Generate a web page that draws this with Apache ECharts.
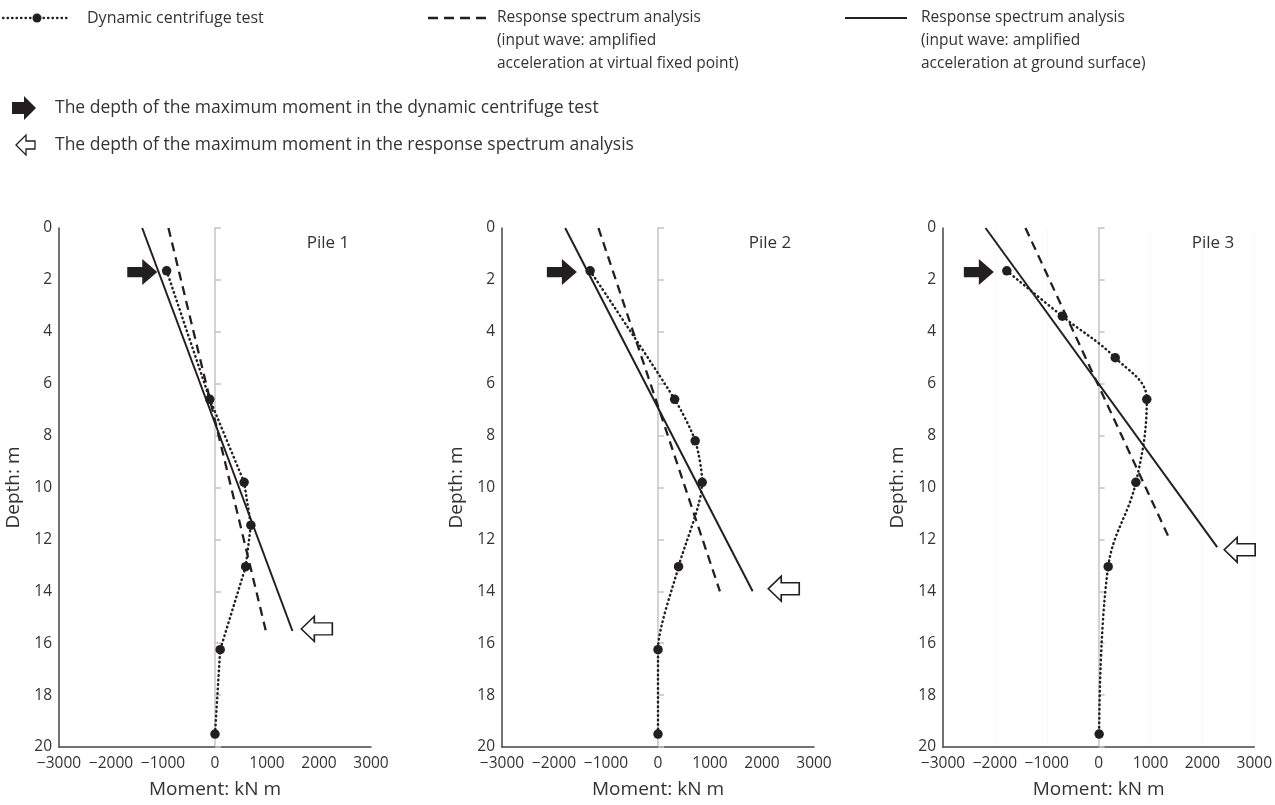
<!DOCTYPE html>
<html><head><meta charset="utf-8">
<script src="https://cdn.jsdelivr.net/npm/echarts@6/dist/echarts.min.js"></script>
<style>html,body{margin:0;padding:0;background:#fff}#c{width:1275px;height:805px}</style>
</head><body><div id="c"></div>
<script>
// ---- data ----
const pileNames = ['Pile 1', 'Pile 2', 'Pile 3'];
const xTickValues = [-3000, -2000, -1000, 0, 1000, 2000, 3000];
const yTickValues = [0, 2, 4, 6, 8, 10, 12, 14, 16, 18, 20];

// Dynamic centrifuge test (moment kN m, depth m)
const pile1TestDepth = [1.65, 6.6, 9.8, 11.45, 13.05, 16.25, 19.5];
const pile1TestMoment = [-930, -100, 560, 690, 590, 100, 0];
const pile2TestDepth = [1.65, 6.6, 8.2, 9.8, 13.05, 16.25, 19.5];
const pile2TestMoment = [-1305, 320, 715, 850, 395, 0, 0];
const pile3TestDepth = [1.65, 3.4, 5.0, 6.6, 9.8, 13.05, 19.5];
const pile3TestMoment = [-1770, -700, 320, 928, 718, 184, 10];

// Response spectrum analysis, virtual fixed point input (dashed): [top, bottom]
const pile1FixedDepth = [0, 15.5];
const pile1FixedMoment = [-895, 975];
const pile2FixedDepth = [0, 14.0];
const pile2FixedMoment = [-1145, 1190];
const pile3FixedDepth = [0, 12.0];
const pile3FixedMoment = [-1410, 1370];

// Response spectrum analysis, ground surface input (solid): [top, bottom]
const pile1GroundDepth = [0, 15.53];
const pile1GroundMoment = [-1400, 1490];
const pile2GroundDepth = [0, 14.0];
const pile2GroundMoment = [-1785, 1820];
const pile3GroundDepth = [0, 12.3];
const pile3GroundMoment = [-2180, 2285];

// Arrows: tip positions [moment, depth]
const testMaxArrowMoment = [-1110, -1560, -2020];
const testMaxArrowDepth = [1.7, 1.7, 1.7];
const spectrumMaxArrowMoment = [1660, 2120, 2420];
const spectrumMaxArrowDepth = [15.45, 13.9, 12.4];

// ---- build ----
const INK = '#231f20';
const TXT = '#333333';
const GRAY = '#c4c4c4';
const FONT = '"Open Sans", "Noto Sans", sans-serif';

const testD = [pile1TestDepth, pile2TestDepth, pile3TestDepth];
const testM = [pile1TestMoment, pile2TestMoment, pile3TestMoment];
const fixD = [pile1FixedDepth, pile2FixedDepth, pile3FixedDepth];
const fixM = [pile1FixedMoment, pile2FixedMoment, pile3FixedMoment];
const grdD = [pile1GroundDepth, pile2GroundDepth, pile3GroundDepth];
const grdM = [pile1GroundMoment, pile2GroundMoment, pile3GroundMoment];
const zip = (m, d) => m.map((v, i) => [v, d[i]]);
const smoothness = [0, 0.25, 0.4];

const FILLED_ARROW = 'path://M0,7.5L15,7.5L15,0L30,12.5L15,25L15,17.5L0,17.5Z';
const OPEN_ARROW = 'path://M0,12.5L13,0L13,6.5L31,6.5L31,18.5L13,18.5L13,25Z';

const gridLefts = [59, 502, 943];
const grids = [], xAxes = [], yAxes = [], series = [];
for (let i = 0; i < 3; i++) {
  grids.push({ left: gridLefts[i], width: 312, top: 228, height: 519 });
  xAxes.push({
    type: 'value', gridIndex: i, min: xTickValues[0], max: xTickValues[xTickValues.length - 1], interval: 1000,
    name: 'Moment: kN m', nameLocation: 'middle', nameGap: 33,
    nameTextStyle: { fontFamily: FONT, fontSize: 19, color: TXT },
    axisLine: { onZero: false, lineStyle: { color: '#444', width: 1.5 } },
    axisTick: { show: false },
    axisLabel: { margin: 9, fontFamily: FONT, fontSize: 15.5, color: TXT,
      formatter: v => (v < 0 ? '\u2212' + Math.abs(v) : String(v)) },
    splitLine: { show: i === 2, lineStyle: { color: '#f4f4f4', type: 'dotted', width: 1 } }
  });
  yAxes.push({
    type: 'value', gridIndex: i, inverse: true, min: yTickValues[0], max: yTickValues[yTickValues.length - 1], interval: 2,
    position: 'left',
    name: 'Depth: m', nameLocation: 'middle', nameGap: 36,
    nameTextStyle: { fontFamily: FONT, fontSize: 19, color: TXT },
    axisLine: { show: true, onZero: false, lineStyle: { color: '#444', width: 1.5 } },
    axisTick: { show: false },
    axisLabel: { margin: 7, fontFamily: FONT, fontSize: 15.5, color: TXT },
    splitLine: { show: false }
  });
  yAxes.push({
    type: 'value', gridIndex: i, inverse: true, min: yTickValues[0], max: yTickValues[yTickValues.length - 1], interval: 2,
    position: 'right',
    axisLine: { show: true, onZero: true, lineStyle: { color: GRAY, width: 1.5 } },
    axisTick: { show: true, length: 6, lineStyle: { color: GRAY, width: 1.5 } },
    axisLabel: { show: false },
    splitLine: { show: false }
  });
  const yi = i * 2;
  series.push({
    name: 'Dynamic centrifuge test', type: 'line', xAxisIndex: i, yAxisIndex: yi,
    data: zip(testM[i], testD[i]), smooth: smoothness[i],
    symbol: 'circle', symbolSize: 9.5, showSymbol: true,
    itemStyle: { color: INK },
    lineStyle: { color: INK, width: 2.5, type: [0.5, 4], cap: 'round' },
    z: 4, silent: true
  });
  series.push({
    name: 'Response spectrum analysis (virtual fixed point)', type: 'line', xAxisIndex: i, yAxisIndex: yi,
    data: zip(fixM[i], fixD[i]), symbol: 'none',
    lineStyle: { color: INK, width: 2.3, type: [9, 6] }, z: 3, silent: true
  });
  series.push({
    name: 'Response spectrum analysis (ground surface)', type: 'line', xAxisIndex: i, yAxisIndex: yi,
    data: zip(grdM[i], grdD[i]), symbol: 'none',
    lineStyle: { color: INK, width: 2 }, z: 3, silent: true
  });
  series.push({
    name: 'Max moment depth (test)', type: 'scatter', xAxisIndex: i, yAxisIndex: yi,
    data: [[testMaxArrowMoment[i], testMaxArrowDepth[i]]],
    symbol: FILLED_ARROW, symbolSize: [30, 26], symbolOffset: [-15, 0],
    itemStyle: { color: INK, opacity: 1 }, z: 5, silent: true, clip: false
  });
  series.push({
    name: 'Max moment depth (spectrum)', type: 'scatter', xAxisIndex: i, yAxisIndex: yi,
    data: [[spectrumMaxArrowMoment[i], spectrumMaxArrowDepth[i]]],
    symbol: OPEN_ARROW, symbolSize: [31, 25], symbolOffset: [15.5, 0],
    itemStyle: { color: '#fff', borderColor: INK, borderWidth: 1.5, opacity: 1 }, z: 5, silent: true, clip: false
  });
}

const txt = (x, y, text, size, extra) => Object.assign({
  type: 'text', x: x, y: y, silent: true,
  style: Object.assign({ text: text, font: size + 'px ' + FONT, fill: TXT, align: 'left', verticalAlign: 'middle', lineHeight: 23 }, extra || {})
});

const graphic = [
  // legend row 1
  { type: 'line', silent: true, shape: { x1: 3, y1: 18, x2: 70, y2: 18 }, style: { stroke: INK, lineWidth: 2.3, lineDash: [0.5, 4], lineCap: 'round' } },
  { type: 'circle', silent: true, shape: { cx: 37, cy: 18, r: 4.5 }, style: { fill: INK } },
  txt(87, 18, 'Dynamic centrifuge test', 16),
  { type: 'line', silent: true, shape: { x1: 428, y1: 18, x2: 488, y2: 18 }, style: { stroke: INK, lineWidth: 2.3, lineDash: [10, 6] } },
  txt(497, 6.5, 'Response spectrum analysis\n(input wave: amplified\nacceleration at virtual fixed point)', 15.5, { verticalAlign: 'top' }),
  { type: 'line', silent: true, shape: { x1: 845, y1: 18, x2: 907, y2: 18 }, style: { stroke: INK, lineWidth: 2 } },
  txt(921, 6.5, 'Response spectrum analysis\n(input wave: amplified\nacceleration at ground surface)', 15.5, { verticalAlign: 'top' }),
  // arrow legend
  { type: 'polygon', silent: true, shape: { points: [[12, 102], [24, 102], [24, 96], [36, 108], [24, 120], [24, 114], [12, 114]] }, style: { fill: INK } },
  txt(55, 108, 'The depth of the maximum moment in the dynamic centrifuge test', 17.5),
  { type: 'polygon', silent: true, shape: { points: [[16, 145], [26, 135], [26, 141], [35, 141], [35, 149], [26, 149], [26, 155]] }, style: { fill: '#fff', stroke: INK, lineWidth: 1.3 } },
  txt(55, 145, 'The depth of the maximum moment in the response spectrum analysis', 17.5),
  // pile labels
  txt(328, 243, pileNames[0], 17, { align: 'center' }),
  txt(770, 243, pileNames[1], 17, { align: 'center' }),
  txt(1213, 243, pileNames[2], 17, { align: 'center' })
];

const chart = echarts.init(document.getElementById('c'), null, { renderer: 'canvas' });
chart.setOption({
  animation: false,
  backgroundColor: '#fff',
  textStyle: { fontFamily: FONT },
  grid: grids, xAxis: xAxes, yAxis: yAxes, series: series, graphic: graphic
});
</script>
</body></html>
